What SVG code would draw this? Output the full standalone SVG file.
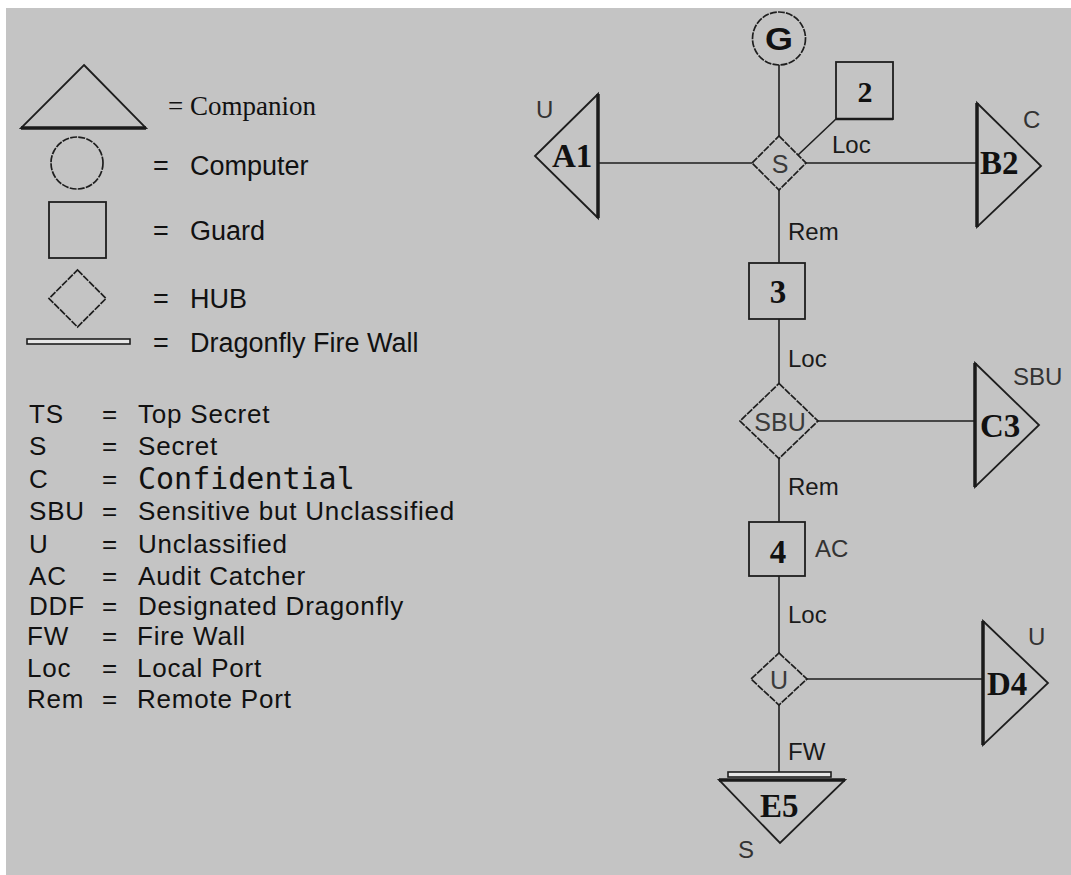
<svg xmlns="http://www.w3.org/2000/svg" width="1071" height="875" viewBox="0 0 1071 875">
<style>
.ln{stroke:#1e1e1e;stroke-width:1.6;fill:none}
.sh{stroke:#1e1e1e;stroke-width:1.8;fill:none}
.dot{stroke:#1e1e1e;stroke-width:1.7;fill:none;stroke-dasharray:7 1.2}
.thick{stroke:#1a1a1a;stroke-width:3.5;fill:none}
.fw{stroke:#1e1e1e;stroke-width:1.6;fill:#e6e6e6}
.leg{font-family:"Liberation Sans",Arial,sans-serif;font-size:27px;fill:#111}
.leg2{font-family:"Liberation Sans",Arial,sans-serif;font-size:26px;letter-spacing:0.8px;fill:#111}
.mono{font-family:"DejaVu Sans Mono","Liberation Mono",monospace;font-size:30px;fill:#111}
.serif{font-family:"Liberation Serif","Times New Roman",serif;font-size:27px;fill:#111}
.nl{font-family:"Liberation Serif","Times New Roman",serif;font-size:33px;font-weight:bold;fill:#111}
.gl{font-family:"Liberation Sans",Arial,sans-serif;font-size:31px;font-weight:bold;fill:#111}
.hub{font-family:"Liberation Sans",Arial,sans-serif;font-size:25px;fill:#3a3a3a;text-anchor:middle}
.lab{font-family:"Liberation Sans",Arial,sans-serif;font-size:24px;fill:#1a1a1a}
.cls{font-family:"Liberation Sans",Arial,sans-serif;font-size:24px;fill:#333}
</style>
<rect x="0" y="0" width="1071" height="875" fill="#ffffff"/>
<rect x="6" y="8" width="1065" height="867" fill="#c4c4c4"/>

<g id="legend">
  <polygon class="sh" points="84,65 146,128 21,128"/>
  <line class="thick" x1="21" y1="128" x2="146" y2="128"/>
  <text class="serif" x="168" y="115">= Companion</text>
  <circle class="dot" cx="77" cy="163" r="26"/>
  <text class="leg" x="153" y="175">=</text>
  <text class="leg" x="190" y="175">Computer</text>
  <rect class="sh" x="49" y="202" width="57" height="56"/>
  <text class="leg" x="153" y="240">=</text>
  <text class="leg" x="190" y="240">Guard</text>
  <polygon class="dot" points="77.5,270 106,298.5 77.5,327 49,298.5"/>
  <text class="leg" x="153" y="308">=</text>
  <text class="leg" x="190" y="308">HUB</text>
  <rect class="fw" x="27" y="339" width="103" height="5"/>
  <text class="leg" x="153" y="352">=</text>
  <text class="leg" x="190" y="352">Dragonfly Fire Wall</text>

  <text class="leg2" x="29" y="423">TS</text><text class="leg2" x="102" y="423">=</text><text class="leg2" x="138" y="423">Top Secret</text>
  <text class="leg2" x="29" y="455">S</text><text class="leg2" x="102" y="455">=</text><text class="leg2" x="138" y="455">Secret</text>
  <text class="leg2" x="29" y="488">C</text><text class="leg2" x="102" y="488">=</text><text class="mono" x="138" y="489">Confidential</text>
  <text class="leg2" x="29" y="520">SBU</text><text class="leg2" x="102" y="520">=</text><text class="leg2" x="138" y="520">Sensitive but Unclassified</text>
  <text class="leg2" x="29" y="553">U</text><text class="leg2" x="102" y="553">=</text><text class="leg2" x="138" y="553">Unclassified</text>
  <text class="leg2" x="29" y="585">AC</text><text class="leg2" x="102" y="585">=</text><text class="leg2" x="138" y="585">Audit Catcher</text>
  <text class="leg2" x="29" y="615">DDF</text><text class="leg2" x="102" y="615">=</text><text class="leg2" x="138" y="615">Designated Dragonfly</text>
  <text class="leg2" x="27" y="645">FW</text><text class="leg2" x="102" y="645">=</text><text class="leg2" x="137" y="645">Fire Wall</text>
  <text class="leg2" x="27" y="677">Loc</text><text class="leg2" x="102" y="677">=</text><text class="leg2" x="137" y="677">Local Port</text>
  <text class="leg2" x="27" y="708">Rem</text><text class="leg2" x="102" y="708">=</text><text class="leg2" x="137" y="708">Remote Port</text>
</g>

<g id="connectors">
  <line class="ln" x1="779" y1="65" x2="779" y2="136"/>
  <line class="ln" x1="598" y1="163" x2="752" y2="163"/>
  <line class="ln" x1="806" y1="163" x2="977" y2="163"/>
  <line class="ln" x1="798" y1="155" x2="836" y2="119"/>
  <line class="ln" x1="779" y1="190" x2="779" y2="263"/>
  <line class="ln" x1="779" y1="319" x2="779" y2="383.5"/>
  <line class="ln" x1="818" y1="421" x2="975" y2="421"/>
  <line class="ln" x1="779" y1="458.5" x2="779" y2="522"/>
  <line class="ln" x1="779" y1="576" x2="779" y2="653"/>
  <line class="ln" x1="807" y1="679" x2="983" y2="679"/>
  <line class="ln" x1="779" y1="705" x2="779" y2="772"/>
  <text class="lab" x="832" y="153">Loc</text>
  <text class="lab" x="788" y="240">Rem</text>
  <text class="lab" x="788" y="367">Loc</text>
  <text class="lab" x="788" y="495">Rem</text>
  <text class="lab" x="788" y="623">Loc</text>
  <text class="lab" x="788" y="760">FW</text>
</g>

<g id="node-G">
  <circle class="dot" cx="779" cy="38.5" r="26.5"/>
  <text class="gl" x="779" y="50" text-anchor="middle" textLength="28" lengthAdjust="spacingAndGlyphs">G</text>
</g>

<g id="node-hub-S">
  <polygon class="dot" points="779,136 806,163 779,190 752,163"/>
  <text class="hub" x="780" y="173">S</text>
</g>

<g id="node-2">
  <rect class="sh" x="836" y="62" width="57" height="57"/>
  <line class="thick" x1="836" y1="119" x2="893" y2="119" style="stroke-width:2.5"/>
  <text class="nl" x="865" y="102" text-anchor="middle" style="font-size:30px">2</text>
</g>

<g id="node-A1">
  <polygon class="sh" points="535,156 598,94 598,218"/>
  <line class="thick" x1="598" y1="94" x2="598" y2="218"/>
  <text class="nl" x="552" y="167">A1</text>
  <text class="cls" x="536" y="118">U</text>
</g>

<g id="node-B2">
  <polygon class="sh" points="977,103 1041,166 977,227"/>
  <line class="thick" x1="977" y1="103" x2="977" y2="227"/>
  <text class="nl" x="980" y="174">B2</text>
  <text class="cls" x="1023" y="128">C</text>
</g>

<g id="node-3">
  <rect class="sh" x="749" y="263" width="56" height="56"/>
  <text class="nl" x="778" y="303" text-anchor="middle">3</text>
</g>

<g id="node-hub-SBU">
  <polygon class="dot" points="779,383.5 818,421 779,458.5 740,421"/>
  <text class="hub" x="780" y="431">SBU</text>
</g>

<g id="node-C3">
  <polygon class="sh" points="975,363 1039,425 975,487"/>
  <line class="thick" x1="975" y1="363" x2="975" y2="487"/>
  <text class="nl" x="980" y="437">C3</text>
  <text class="cls" x="1013" y="385">SBU</text>
</g>

<g id="node-4">
  <rect class="sh" x="749" y="522" width="56" height="54"/>
  <text class="nl" x="778" y="563" text-anchor="middle">4</text>
  <text class="cls" x="815" y="557">AC</text>
</g>

<g id="node-hub-U">
  <polygon class="dot" points="779,653 807,679 779,705 751,679"/>
  <text class="hub" x="779" y="689">U</text>
</g>

<g id="node-D4">
  <polygon class="sh" points="983,621 1048,683 983,745"/>
  <line class="thick" x1="983" y1="621" x2="983" y2="745"/>
  <text class="nl" x="987" y="695">D4</text>
  <text class="cls" x="1028" y="645">U</text>
</g>

<g id="node-E5">
  <rect class="fw" x="728" y="772" width="103" height="5"/>
  <polygon class="sh" points="719,780 845,780 780,843"/>
  <line class="thick" x1="719" y1="780" x2="845" y2="780"/>
  <text class="nl" x="760" y="817">E5</text>
  <text class="cls" x="738" y="858">S</text>
</g>
</svg>
